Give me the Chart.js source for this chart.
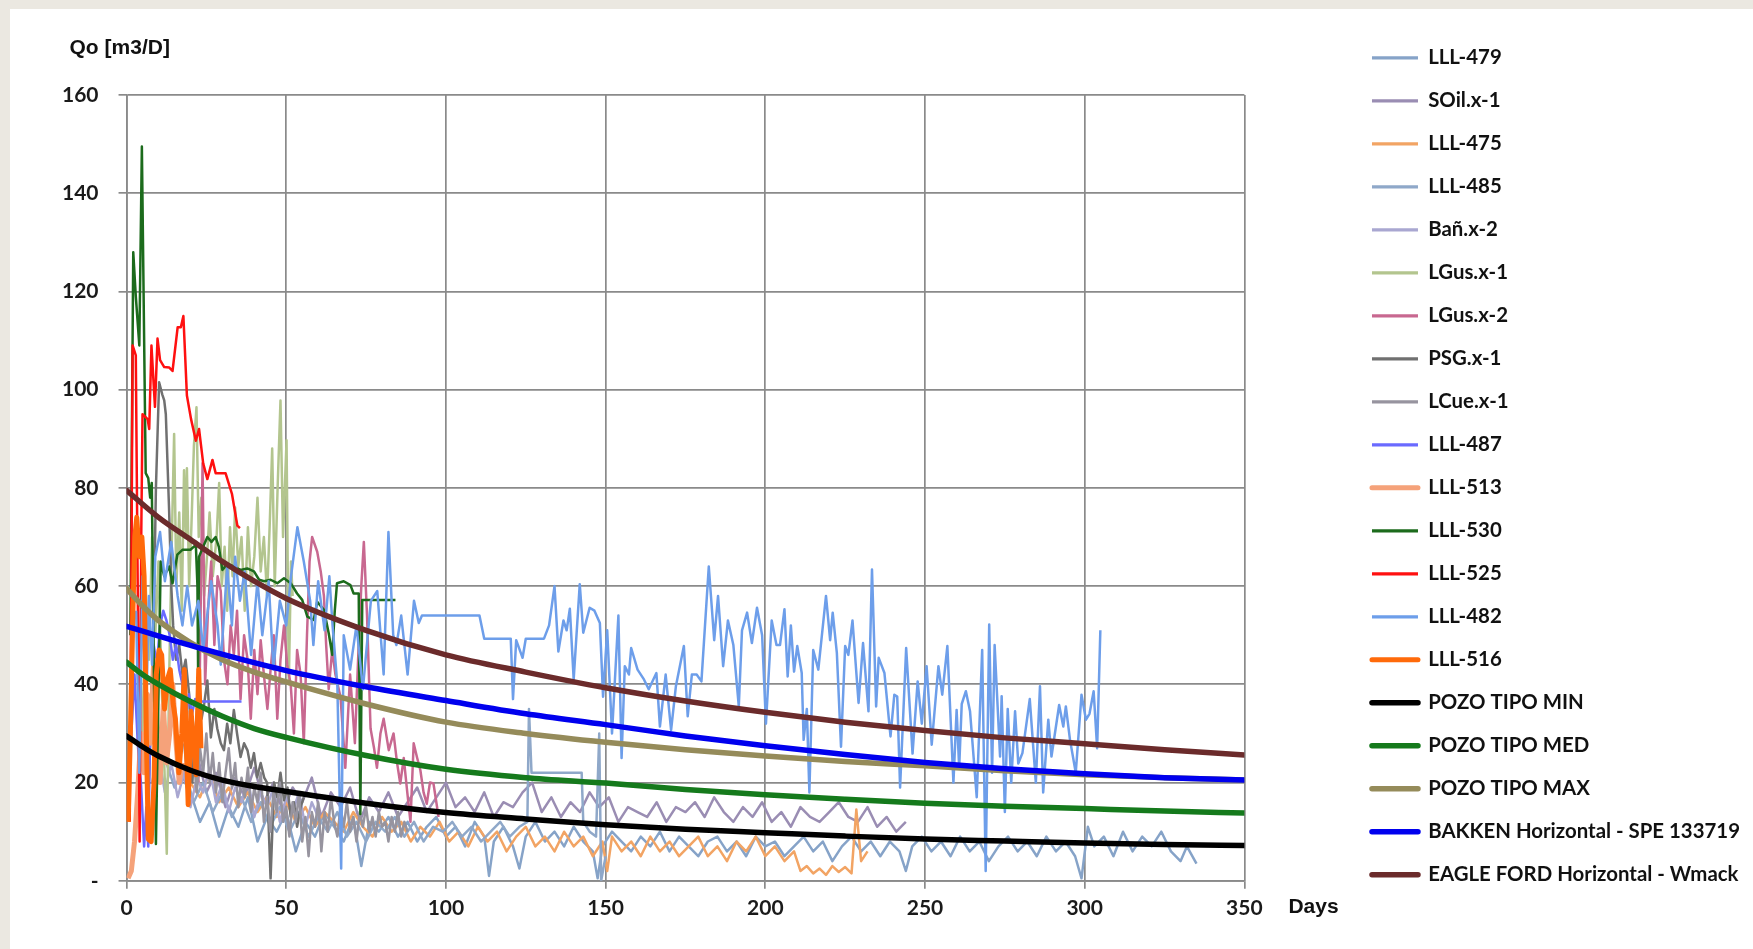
<!DOCTYPE html>
<html>
<head>
<meta charset="utf-8">
<title>Qo vs Days</title>
<script src="https://cdn.jsdelivr.net/npm/chart.js@4.4.1/dist/chart.umd.min.js"></script>
<style>
  html, body { margin: 0; padding: 0; background: #ebe8e1; }
  body { width: 1753px; height: 949px; position: relative; overflow: hidden; }
  #panel { position: absolute; left: 10px; top: 9px; right: 0; bottom: 0; background: #fff; }
  #chart { position: absolute; left: 0; top: 0; }
</style>
</head>
<body>
<div id="panel"></div>
<canvas id="chart" width="1753" height="949"></canvas>
<script>
// axis texts and ticks
const yTitle = 'Qo [m3/D]';
const xTitle = 'Days';
const xTickValues = [0, 50, 100, 150, 200, 250, 300, 350];
const yTickValues = [0, 20, 40, 60, 80, 100, 120, 140, 160];
const yTickLabels = ['-', '20', '40', '60', '80', '100', '120', '140', '160'];

const seriesNames = ['LLL-479', 'SOil.x-1', 'LLL-475', 'LLL-485', 'Bañ.x-2', 'LGus.x-1', 'LGus.x-2',
  'PSG.x-1', 'LCue.x-1', 'LLL-487', 'LLL-513', 'LLL-530', 'LLL-525', 'LLL-482', 'LLL-516',
  'POZO TIPO MIN', 'POZO TIPO MED', 'POZO TIPO MAX', 'BAKKEN Horizontal - SPE 133719', 'EAGLE FORD Horizontal - Wmack'];

// [day, Qo]
const lll479 = [[20,18],[23,12],[26,16],[29,9],[32,15],[35,11],[38,17],[41,8],[44,13],[47,10],[50,14],[53,6],[56,12],[59,9],[62,14],[65,11],[68,8],[71,13],[73.5,3],[76,12],[79,10],[82,13],[85,9],[88,12],[91,8],[94,11],[97,13],[100,9],[103,11],[106,7],[109,12],[112,9],[113.5,1],[115,8],[118,11],[121,7],[123,2.5],[125,9],[128,12],[131,8],[134,10],[137,7],[140,11],[143,8],[146,6],[147.5,0.5],[149,7],[152,10],[155,8],[158,6],[161,9],[164,7],[167,10],[170,6],[173,9],[176,7],[179,5],[182,8],[185,9],[188,6],[191,8],[194,5],[197,9],[200,7],[203,8],[206,5],[209,7],[212,9],[215,6],[218,8],[221,4],[224,7],[227,9],[230,6],[233,8],[236,5],[239,8],[242,6],[244,2],[246,7],[249,9],[252,6],[255,8],[258,5],[261,9],[264,6],[267,8],[270,4],[273,7],[276,9],[279,6],[282,8],[285,5],[288,9],[291,6],[294,8],[297,5],[299,0.5],[301,11],[303,7],[306,9],[309,5],[312,10],[315,6],[318,9],[321,7],[324,10],[327,6],[330,4],[332,7],[335,3.5]];
const soil1 = [[16,24],[19,19],[22,26],[25,18],[28,22],[31,15],[34,21],[37,17],[40,23],[43,16],[46,20],[49,14],[52,19],[55,16],[58,21],[61,13],[64,18],[67,15],[70,19],[73,12],[76,17],[79,14],[82,18],[85,13],[88,16],[91,19],[94,14],[97,17],[100,20],[103,15],[106,17],[109,14],[112,18],[115,13],[118,16],[121,15],[124,18],[127,20],[130,14],[133,17],[136,13],[139,16],[142,14],[145,18],[148,15],[151,17],[154,12],[157,15],[160,14],[163,13],[166,16],[169,12],[172,15],[175,14],[178,16],[181,13],[184,17],[187,14],[190,12],[193,15],[196,13],[199,16],[202,12],[205,14],[208,11],[211,15],[214,13],[217,12],[220,14],[223,16],[226,13],[229,12],[232,15],[235,11],[238,13],[241,10],[244,12]];
const lll475 = [[20,20],[23,17],[26,22],[29,16],[32,19],[35,15],[38,18],[41,14],[44,17],[47,13],[50,16],[53,12],[56,15],[59,11],[62,14],[65,12],[68,10],[71,14],[74,11],[77,9],[80,13],[83,10],[86,12],[89,8],[92,11],[95,9],[98,12],[101,8],[104,10],[107,7],[110,11],[113,8],[116,10],[119,6],[122,9],[125,11],[128,7],[131,9],[134,6],[137,10],[140,7],[143,9],[146,5],[149,8],[150.5,2],[152,9],[155,6],[158,8],[161,5],[164,9],[167,6],[170,8],[173,5],[176,7],[179,9],[182,5],[185,7],[188,4],[191,8],[194,6],[197,9],[200,5],[203,7],[206,4],[209,6],[211,2],[213,3],[215,1.5],[217,2.5],[219,1.2],[221,3],[223,1.8],[225,2.8],[227,1.5],[228.5,14.5],[230,4],[232,6]];
const lll485 = [[12,25],[15,19],[18,23],[21,16],[24,20],[27,14],[30,18],[33,13],[36,17],[39,12],[42,16],[45,11],[48,15],[51,10],[54,14],[57,9],[60,13],[63,10],[66,14],[69,9],[72,12],[75,8],[78,12],[81,10],[84,13],[87,9],[90,12],[93,8],[96,11],[99,10],[102,12],[105,9],[108,11],[111,8],[114,10],[117,12],[120,9],[123,11],[125.5,12],[126,35],[126.8,22],[142.5,22],[143,12],[145,10],[147,9],[148,30],[148.6,0],[150,5]];
const ban2 = [[8,20],[10,26],[12,18],[14,24],[16,17],[18,22],[20,15],[22,21],[24,18],[26,23],[28,16],[30,20],[32,14],[34,19],[36,16],[38,21],[40,13],[42,18],[44,15],[46,19],[48,12],[50,17],[52,14],[54,18],[56,11],[58,16],[60,13]];
const lgus1 = [[5,30],[6,60],[7,45],[8,70],[9,50],[10,65],[11,40],[12,20],[12.6,5.5],[13.3,40],[14.2,70],[14.9,91],[15.6,60],[16.5,75],[17.3,55],[18,83.6],[18.6,70],[18.9,84],[19.6,60],[20.3,72],[21.1,88.6],[21.9,96.4],[22.6,70],[23.4,78],[24.3,58],[25.2,66],[26,75],[27,62],[28.2,70],[29,81],[29.8,60],[30.7,68],[31.5,55],[32.4,72],[33.2,62],[34,76],[35,64],[36,70],[37,55],[38,72],[39,60],[40,66],[41,78],[42,63],[43,70],[44,58],[44.8,72],[45.6,88],[46.4,60],[47.3,80],[48.2,97.8],[49,70],[50.1,89.7],[50.8,40],[51.5,65],[52,58]];
const lgus2 = [[22.5,20],[23.3,60],[23.8,85],[24.6,40],[25.5,55],[26.5,65],[27.5,48],[28.5,62],[29.5,59],[30.5,45],[31.6,40],[32.6,52],[33.6,46],[34.6,55],[35.7,37],[36.8,50],[37.9,45],[38.9,33],[40,47],[41,38],[42,49],[43,42],[44.1,35],[45.1,43],[46.1,50],[47.2,33],[48.2,45],[49.3,52],[50.3,44],[51.4,40],[52.4,30],[53.4,47],[54.5,42],[55.5,28],[56.5,50],[57.3,65],[58.1,70],[59.7,67],[60.8,63],[61.8,58],[62.5,48],[63.3,39],[64.4,47],[65.4,42],[67,37.4],[68.5,23],[70,42],[71.5,28],[72.5,45],[73.5,60],[74.3,69],[75.3,54],[76.4,31],[77.5,27],[78.4,23],[79.5,30],[80.5,33],[82.1,26.6],[83.6,30],[84.7,24],[85.7,19.8],[86.8,25],[87.9,18],[88.9,12],[89.9,28],[91,25],[92,22.5],[93,18],[94,15.7],[95,20],[96.1,19.8],[97.7,13]];
const psg1 = [[7,20],[8.3,45],[9.2,80],[10.2,101.5],[11.2,99],[11.8,97.8],[12.3,95],[13.3,76],[14,60],[14.6,52],[15.5,45],[16.5,48],[17.5,42],[18.5,45],[19.6,38],[20.6,20],[21.5,30],[22.7,40],[23.5,33],[24.3,36],[25.3,40.8],[26.4,29.2],[27.5,35],[28.4,31],[29.5,28],[30.5,26.6],[31.5,32],[32.5,28],[33.6,34.8],[34.6,30],[35.7,25.2],[36.8,28],[37.9,26.5],[38.9,23],[39.9,26],[40.9,21.1],[42,24],[43.1,21],[44,20],[45.1,0.5],[46.2,20],[47.2,17],[48.2,22],[49.3,16.4],[50.4,19],[51.4,13],[52.4,16],[53.4,11],[54.5,15],[55.5,17]];
const lcue1 = [[18,28],[19,22],[20,30],[21,25],[22,18],[23,27],[24,22],[25,30],[26,20],[27,26],[28,18],[29,24],[30,16],[31,22],[32,27],[33,19],[34,24],[35,15],[36,21],[37,17],[38,23],[39,14],[40,19],[41,16],[42,22],[43,12],[44,17],[45,10],[46,18],[47,14],[48,20],[49,12],[50,15],[51,9],[52,16],[53,12],[54,18],[55,8],[56,13],[57,5],[58,14],[59,11],[60,16],[61,6],[62,14],[63,10],[64,17],[65,12],[66,9],[67,15],[68,11],[69,16],[70,10],[71,13],[72,8],[73,14],[74,11],[75,15],[76,10],[77,13],[78,9],[79,14],[80,11],[81,12],[82,8],[83,13],[84,10],[85,14],[86,9],[87,12],[88,10]];
const lll487 = [[0.5,15],[1.5,30],[2.5,42],[3.5,28],[4.5,20],[5.5,7],[6.2,15],[6.8,7],[7.5,35],[8.5,48],[9.5,44],[10.5,52],[11.5,55],[12.5,53],[13.5,50],[14.5,45],[15.5,48],[16.5,43],[17.5,40],[18.5,33],[19.5,38],[20.5,34],[21.5,37],[22.5,35],[23.2,36.5],[36,36.5]];
const lll513 = [[0.5,0.5],[1.5,2],[2.5,8],[3.5,18],[4.5,30],[5.5,22],[6.5,38],[7.5,28],[8.5,45],[9.5,33],[10.5,20],[11.5,36],[12.5,24],[13.5,30],[14.5,40],[15.5,28],[16.5,20],[17.5,24]];
const lll530 = [[1.2,50],[2.1,128],[2.9,119],[4,109],[4.8,149.5],[6,83],[6.8,82],[7.4,78],[7.9,81],[8.6,40],[9.2,7.5],[10.7,65],[11.8,62],[13.3,64],[14.4,60.6],[15.9,66.4],[17.5,67.4],[20,67.4],[21.7,68.4],[22.2,60],[22.4,43],[22.7,66],[24,68],[25.3,70],[26.6,69],[27.9,70],[28.9,68],[30,63.3],[31.6,64.5],[33.6,64],[35.7,63.3],[37.8,63.6],[39.9,63],[41.5,61.3],[43.1,61],[45.1,61.3],[47.2,60.6],[49.3,61.6],[51.4,60.6],[53.4,58.5],[55,57.2],[56.6,53.8],[58.6,53.1],[59.7,56.8],[61.8,55.2],[63.3,50.4],[64.4,46],[65.2,55],[65.9,60.6],[68,61],[70.1,60.2],[71.1,58.5],[72.7,58.5],[73.2,13.6],[73.8,57.2],[84.2,57.2]];
const lll525 = [[1,12],[1.5,60],[1.9,109],[2.9,107],[3.5,60],[4.1,8],[4.6,70],[5,95],[6.6,94],[7.1,92],[7.8,109],[8.9,96.5],[9.7,110.4],[10.5,106],[11.8,104.6],[13.4,104.5],[14.4,103.8],[16,112.7],[17,112.7],[17.8,115],[18.9,98.8],[20.2,94],[21.7,89.6],[22.7,92],[24,85],[25.3,81.8],[26.9,85.7],[27.9,83],[31,83],[33,78.8],[34.7,72.3],[35.5,71.8]];
const lll482 = [[3,55],[4,22],[5,62],[6,30],[7,58],[8,44],[9,66],[10.5,71],[12,61],[14,69],[16,58],[17.5,52],[19,60],[20.5,52],[22.5,57],[24,47],[26.5,61],[28.5,52],[29.5,44],[31.5,64],[33,52],[34,66],[35.5,57],[37,63],[39,46],[41,61],[42.5,50],[44.5,61],[46,43],[48,57],[50,52],[51.5,62],[53.5,72],[55.5,65],[57.5,57],[58.5,48],[60,61],[62,51],[63.5,62],[64.5,52],[66,40],[67.2,2.5],[68,50],[70,43],[72,52],[74,39],[76.5,57],[78.5,59],[80.5,42],[82,71],[83.5,50],[84.5,48],[86,54],[88,42],[90,57],[91.5,52.5],[92.5,54],[110.5,54],[112,49.3],[120.3,49.3],[121,37],[122,49],[124,45.4],[125,49.3],[130.7,49.3],[132.3,52],[134,60],[135.2,46.7],[136.8,53],[137.8,51],[138.8,55.4],[140,41],[141.9,60.4],[143,50.5],[145,55.6],[146.5,55],[148.2,52.5],[149.2,37.5],[150.5,51],[152,30],[154,54],[155,25],[156,43.7],[157.3,42],[158,47.4],[160,43],[162,41],[163.5,39],[165.9,42.3],[167,31.4],[168.8,42],[170.5,30.7],[172,39.6],[174.5,47.8],[175.7,33.5],[177,42],[178.5,42],[180,40.6],[182.3,64],[184,49],[185.2,58],[186.8,43.7],[188.3,53],[190,48],[191.7,35.5],[192.7,51],[194.3,54.6],[195.8,48.4],[197.4,55.6],[199,50],[200.2,32],[202,53],[203.5,48],[204.6,48],[206,55.3],[207,41.6],[208,52],[209,42.6],[210,47.8],[211.4,42.3],[212,28.7],[213,35],[213.8,18],[215,47],[216.6,43],[219,58],[220.3,49],[221.1,54.6],[222.4,46.4],[223.7,27.3],[225,47.8],[226,46],[227.3,53],[229.2,36.2],[230.6,48.4],[232.3,34.5],[233.4,63.4],[234.7,35.5],[235.5,45.4],[237.3,42.3],[239.2,29.4],[240.4,37.9],[241.3,37.5],[242.2,19],[244.1,47.4],[246.1,25.9],[247.7,40.6],[249,32],[250.5,43.7],[252.1,27.7],[254.2,43.7],[255.4,37.9],[257,47.8],[258.9,20],[259.9,34.8],[260.7,23],[261.5,36],[262.8,38.6],[264.1,34.5],[266.2,17],[267.9,47],[269,2],[270.1,52.2],[271,22],[271.8,48],[273.5,25.3],[274,37.6],[275,14],[275.9,35],[277,20],[278.2,34.5],[279.2,23.9],[280.5,26],[282.8,37],[284.7,20],[286,39.6],[287,18],[288.6,32.8],[289.6,25.3],[292,35.8],[293.3,31.4],[294.1,35.5],[295.4,28.7],[297.2,22],[299,37.9],[300.4,32.8],[301.5,34],[302.8,38.6],[303.9,27],[304.9,51]];
const lll516 = [[0.5,12],[1.2,30],[2,55],[2.6,70],[3.2,74],[4,66],[4.8,70],[5.5,62],[6.2,30],[6.8,8.5],[7.7,8],[8.6,20],[9.3,42],[10.2,47],[11,46],[11.9,35],[12.8,41],[13.7,43],[14.6,36],[15.3,33],[16.4,22],[17.3,30],[18.1,43],[18.8,26],[19.3,15.5],[20.2,34.5],[21,28],[21.8,21.6],[22.6,43],[23.3,27]];
const pozoMin = [[0,29.5],[5,27.3],[10,25.4],[20,22.5],[30,20.5],[40,19.2],[50,18.2],[75,15.8],[100,13.9],[125,12.6],[150,11.4],[175,10.5],[200,9.8],[225,9.1],[250,8.5],[275,8.1],[300,7.7],[325,7.4],[350,7.2]];
const pozoMed = [[0,44.5],[5,42],[10,40],[20,36.5],[30,33.5],[40,31],[50,29.2],[75,25.5],[100,22.7],[125,21],[150,19.9],[175,18.6],[200,17.5],[225,16.6],[250,15.8],[275,15.2],[300,14.7],[325,14.2],[350,13.8]];
const pozoMax = [[0,59.5],[5,56],[10,53],[20,48.5],[30,45],[40,42.5],[50,40.5],[75,36],[100,32.3],[125,30],[150,28.2],[175,26.7],[200,25.4],[225,24.3],[250,23.4],[275,22.4],[300,21.6],[325,21],[350,20.5]];
const bakken = [[0,51.8],[25,47],[50,42.8],[75,39.5],[100,36.7],[125,34],[150,31.8],[175,29.5],[200,27.5],[225,25.7],[250,24.1],[275,22.8],[300,21.8],[325,21],[350,20.5]];
const eagleFord = [[0,79.5],[10,74],[20,69.5],[30,65],[40,61],[50,57.5],[75,51],[100,46],[125,42.5],[150,39.3],[175,36.6],[200,34.3],[225,32.3],[250,30.6],[275,29.1],[300,27.9],[325,26.7],[350,25.6]];

const seriesData = [lll479, soil1, lll475, lll485, ban2, lgus1, lgus2, psg1, lcue1, lll487,
  lll513, lll530, lll525, lll482, lll516, pozoMin, pozoMed, pozoMax, bakken, eagleFord];

// styles
const seriesColors = ['#86a3c8', '#9a8db3', '#f2a464', '#8fa8c9', '#a9a7d1', '#b3c58e', '#c86890',
  '#707070', '#97949f', '#6a6aff', '#f5a27a', '#1c6b1c', '#ff1010', '#6d9eea', '#ff6a0a',
  '#000000', '#157a1c', '#958b5a', '#0000ee', '#6b2b2b'];
const seriesWidths = [2.5, 2.5, 2.5, 2.5, 2.5, 2.5, 2.5, 2.5, 2.5, 2.5, 5, 2.5, 2.5, 2.5, 5, 5.5, 5.5, 5.5, 5.5, 5.5];
const smoothFrom = 15; // type curves

const datasets = seriesNames.map(function(name, i) {
  return {
    label: name,
    data: seriesData[i].map(function(p) { return {x: p[0], y: p[1]}; }),
    borderColor: seriesColors[i],
    backgroundColor: seriesColors[i],
    borderWidth: seriesWidths[i],
    pointRadius: 0,
    fill: false,
    tension: 0,
    cubicInterpolationMode: i >= smoothFrom ? 'monotone' : 'default',
    borderJoinStyle: 'round',
    borderCapStyle: i >= smoothFrom ? 'round' : 'butt',
    order: seriesNames.length - i   // later series painted on top, like the source
  };
});

const gridColor = '#8a8a8a';
const tickFont = { family: 'Lato', weight: 'bold', size: 21 };

const axisTitles = {
  id: 'axisTitles',
  afterDraw(chart) {
    const ctx = chart.ctx;
    const area = chart.chartArea;
    ctx.save();
    ctx.fillStyle = '#111';
    ctx.textAlign = 'left';
    ctx.textBaseline = 'middle';
    ctx.font = 'bold 21px "Liberation Sans", Arial, sans-serif';
    ctx.fillText(yTitle, area.left - 57, area.top - 47);
    ctx.fillText(xTitle, area.right + 44, area.bottom + 26);
    ctx.restore();
  }
};

new Chart(document.getElementById('chart'), {
  type: 'line',
  data: { datasets: datasets },
  options: {
    responsive: false,
    animation: false,
    events: [],
    layout: { padding: { left: 42, top: 25, right: 3, bottom: 21 } },
    scales: {
      x: {
        type: 'linear', min: 0, max: 350,
        afterBuildTicks: function(s) { s.ticks = xTickValues.map(function(v) { return {value: v}; }); },
        grid: { color: gridColor, lineWidth: 1.7, tickLength: 8 },
        border: { color: gridColor, width: 1.7 },
        ticks: { color: '#1a1a1a', font: tickFont, padding: 7, maxRotation: 0 }
      },
      y: {
        type: 'linear', min: 0, max: 160,
        afterBuildTicks: function(s) { s.ticks = yTickValues.map(function(v) { return {value: v}; }); },
        grid: { color: gridColor, lineWidth: 1.7, tickLength: 8 },
        border: { color: gridColor, width: 1.7 },
        ticks: {
          color: '#1a1a1a', font: tickFont, padding: 20,
          callback: function(v) { return yTickLabels[yTickValues.indexOf(v)]; }
        }
      },
      // hidden spacer boxes: room above the plot and between plot and legend
      xTop: {
        type: 'linear', position: 'top', display: false,
        afterFit: function(s) { s.height = 70; }
      },
      yGap: {
        type: 'linear', position: 'right', display: false,
        afterFit: function(s) { s.width = 105; }
      }
    },
    plugins: {
      legend: {
        position: 'right',
        align: 'start',
        labels: {
          usePointStyle: true,
          pointStyle: 'line',
          pointStyleWidth: 46,
          padding: 22.6,
          color: '#111',
          font: { family: 'Lato', weight: 'bold', size: 20.4 },
          sort: function(a, b) { return a.datasetIndex - b.datasetIndex; },
          generateLabels: function(chart) {
            const items = Chart.defaults.plugins.legend.labels.generateLabels(chart);
            items.forEach(function(it) {
              const w = seriesWidths[it.datasetIndex];
              it.lineWidth = w >= 5 ? w : 3.2;
              it.lineCap = w >= 5 ? 'round' : 'butt';
            });
            return items;
          }
        }
      },
      tooltip: { enabled: false }
    }
  },
  plugins: [axisTitles]
});
</script>
</body>
</html>
